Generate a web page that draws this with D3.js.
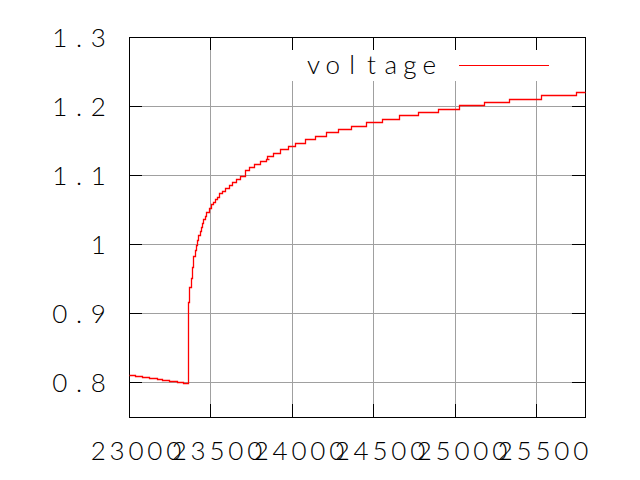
<!DOCTYPE html>
<html>
<head>
<meta charset="utf-8">
<script src="https://cdn.jsdelivr.net/npm/d3@7"></script>
<style>
  html, body { margin: 0; padding: 0; background: #ffffff; }
  svg { display: block; }
  .lbl { font-family: Lato, "DejaVu Sans", sans-serif; font-weight: 300; font-size: 26px; fill: #000; }
</style>
</head>
<body>
<svg id="chart" width="640" height="480"></svg>
<script>
// ---- data ----
const seriesName = "voltage";
const timeVals = [
  23000, 23037, 23078, 23125, 23170, 23201, 23247, 23296, 23329,
  23364, 23370, 23380, 23388, 23394, 23403, 23409, 23417, 23425, 23434,
  23440, 23448, 23456, 23464, 23472, 23489, 23501, 23514, 23526, 23538,
  23554, 23569, 23591, 23614, 23630, 23656, 23681, 23712, 23739, 23767,
  23804, 23840, 23862, 23848, 23885, 23926, 23977, 24020, 24080, 24143,
  24209, 24282, 24364, 24453, 24554, 24658, 24775, 24898, 25026, 25178,
  25333, 25532, 25742, 25800
];
const voltageVals = [
  0.8104, 0.8089, 0.8079, 0.8064, 0.8050, 0.8031, 0.8017, 0.8002, 0.7992,
  0.9160, 0.9377, 0.9516, 0.9675, 0.9830, 0.9917, 0.9989, 1.0062, 1.0134, 1.0192,
  1.0246, 1.0304, 1.0362, 1.0414, 1.0463, 1.0521, 1.0579, 1.0616, 1.0651, 1.0689,
  1.0738, 1.0775, 1.0819, 1.0858, 1.0897, 1.0945, 1.0995, 1.1068, 1.1118, 1.1162,
  1.1205, 1.1241, 1.1241, 1.1278, 1.1317, 1.1375, 1.1420, 1.1473, 1.1519, 1.1567,
  1.1621, 1.1668, 1.1713, 1.1763, 1.1813, 1.1871, 1.1910, 1.1954, 1.2012, 1.2055,
  1.2103, 1.2156, 1.2200, 1.2200
];
const xTicks = [23000, 23500, 24000, 24500, 25000, 25500];
const xTickLabels = ["23000", "23500", "24000", "24500", "25000", "25500"];
const yTicks = [0.8, 0.9, 1.0, 1.1, 1.2, 1.3];
const yTickLabels = ["0.8", "0.9", "1", "1.1", "1.2", "1.3"];
const xDomain = [23000, 25800];
const yDomain = [0.75, 1.3];

// ---- layout ----
const L = 129, R = 585, T = 37, B = 417;
const ADV = 19.3;

const svg = d3.select("#chart");
svg.append("rect").attr("width", 640).attr("height", 480).attr("fill", "#fff");

const x = d3.scaleLinear().domain(xDomain).rangeRound([L, R]);
const y = d3.scaleLinear().domain(yDomain).rangeRound([B, T]);

// grid
const gridX = svg.append("g").attr("transform", `translate(0,${B})`)
  .call(d3.axisBottom(x).tickValues(xTicks.slice(1)).tickSize(-(B - T)).tickFormat(""));
const gridY = svg.append("g").attr("transform", `translate(${L},0)`)
  .call(d3.axisLeft(y).tickValues(yTicks.slice(0, -1)).tickSize(-(R - L)).tickFormat(""));
[gridX, gridY].forEach(g => {
  g.select(".domain").remove();
  g.selectAll("line").attr("stroke", "#a0a0a0").attr("shape-rendering", "crispEdges");
});

// legend background (hides grid behind the key)
svg.append("rect").attr("x", 284).attr("y", 50).attr("width", 278).attr("height", 31).attr("fill", "#fff");

// tick marks on all four sides, pointing inward
function ticks(axis, tx, ty) {
  const g = svg.append("g").attr("transform", `translate(${tx},${ty})`).call(axis);
  g.select(".domain").remove();
  g.selectAll("line").attr("stroke", "#000").attr("shape-rendering", "crispEdges");
  g.selectAll("text").remove();
}
ticks(d3.axisBottom(x).tickValues(xTicks).tickSizeInner(-13).tickSizeOuter(0).tickFormat(""), 0, B);
ticks(d3.axisTop(x).tickValues(xTicks).tickSizeInner(-13).tickSizeOuter(0).tickFormat(""), 0, T);
ticks(d3.axisLeft(y).tickValues(yTicks).tickSizeInner(-13).tickSizeOuter(0).tickFormat(""), L, 0);
ticks(d3.axisRight(y).tickValues(yTicks).tickSizeInner(-13).tickSizeOuter(0).tickFormat(""), R, 0);

// border
svg.append("rect").attr("x", L + 0.5).attr("y", T + 0.5).attr("width", R - L).attr("height", B - T)
  .attr("fill", "none").attr("stroke", "#000").attr("shape-rendering", "crispEdges");

// data line
const data = timeVals.map((t, i) => [t, voltageVals[i]]);
const line = d3.line().x(d => x(d[0]) + 0.5).y(d => y(d[1]) + 0.5).curve(d3.curveStepAfter);
svg.append("path").datum(data).attr("d", line)
  .attr("fill", "none").attr("stroke", "#ff0000").attr("stroke-width", 1.3);

// monospaced labels: each glyph centred in its own cell
function label(str, centers, baseline) {
  svg.append("text").attr("class", "lbl")
    .attr("x", centers.map(c => c.toFixed(1)).join(" "))
    .attr("y", baseline)
    .attr("text-anchor", "middle")
    .text(str);
}
yTicks.forEach((v, i) => {
  const s = yTickLabels[i];
  const n = s.length;
  const centers = d3.range(n).map(k => 98.3 - (n - 1 - k) * ADV);
  label(s, centers, y(v) + 10);
});
xTicks.forEach((v, i) => {
  const s = xTickLabels[i];
  const n = s.length;
  const mid = x(v) + 7;
  const centers = d3.range(n).map(k => mid + (k - (n - 1) / 2) * 18.9);
  label(s, centers, 460);
});

// legend
label(seriesName, d3.range(seriesName.length).map(k => 313.5 + k * ADV), 74);
svg.append("line").attr("x1", 459).attr("x2", 549).attr("y1", 65.5).attr("y2", 65.5)
  .attr("stroke", "#ff0000").attr("stroke-width", 1).attr("shape-rendering", "crispEdges");
</script>
</body>
</html>
